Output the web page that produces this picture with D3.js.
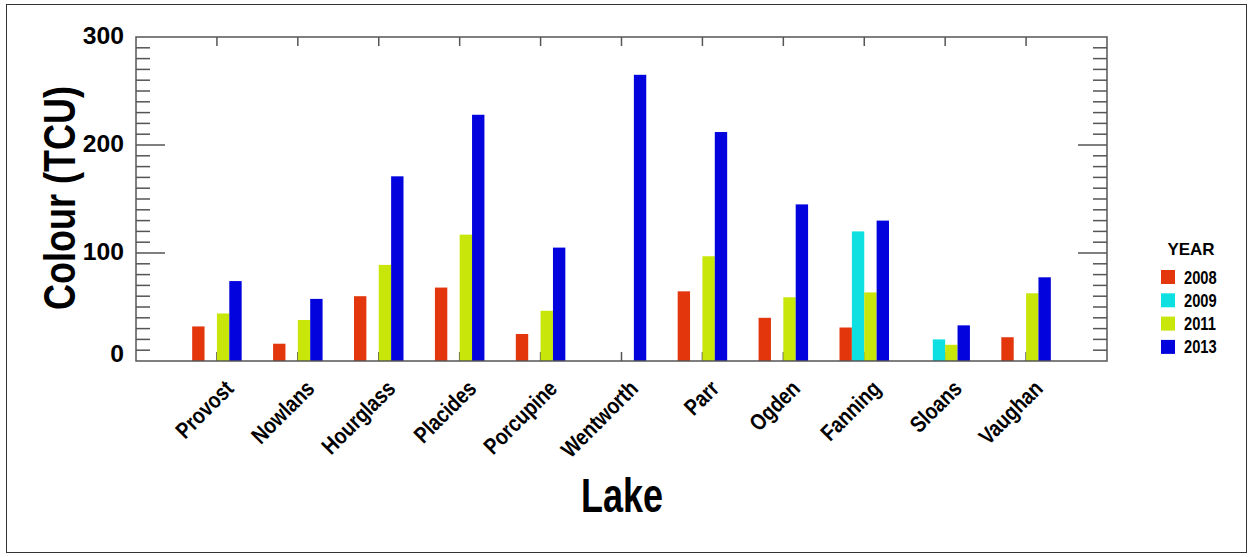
<!DOCTYPE html>
<html>
<head>
<meta charset="utf-8">
<script src="https://cdn.jsdelivr.net/npm/d3@7"></script>
<style>
  body { margin: 0; background: #fff; }
  text { font-family: "Liberation Sans", Arial, sans-serif; font-weight: bold; fill: #000; }
</style>
</head>
<body>
<svg id="chart" width="1249" height="557"></svg>
<script>
const lakes = ["Provost","Nowlans","Hourglass","Placides","Porcupine","Wentworth","Parr","Ogden","Fanning","Sloans","Vaughan"];
const years = ["2008","2009","2011","2013"];
const colours = ["#e3360c","#0ee0e2","#c8e60a","#0303dd"];
const v2008 = [32, 16, 60, 68, 25, null, 64.5, 40, 31, null, 22];
const v2009 = [null, null, null, null, null, null, null, null, 120, 20, null];
const v2011 = [44, 38, 89, 117, 46.5, null, 97, 59, 63.5, 15, 62.7];
const v2013 = [74, 57.5, 171, 228, 105, 265, 212, 145, 130, 33, 77.5];
const series = [v2008, v2009, v2011, v2013];
const yTicks = [0, 100, 200, 300];

const svg = d3.select("#chart");
const L = 136, R = 1107, T = 37, B = 361;
const axisCol = "#555";

// outer frame
svg.append("rect").attr("x", 6.5).attr("y", 4.5).attr("width", 1240).attr("height", 548)
  .attr("fill", "none").attr("stroke", "#333").attr("stroke-width", 1);

const x = d3.scaleLinear().domain([-1, lakes.length]).range([L, R]);
const xi = d3.scaleBand().domain(years).range([-24.75, 24.75]).padding(0);
const y = d3.scaleLinear().domain([0, 300]).range([B, T]);

// category ticks (top and bottom), drawn before bars
lakes.forEach((l, i) => {
  svg.append("line").attr("x1", x(i)).attr("x2", x(i)).attr("y1", T).attr("y2", T + 9)
    .attr("stroke", axisCol).attr("stroke-width", 1.5);
  svg.append("line").attr("x1", x(i)).attr("x2", x(i)).attr("y1", B).attr("y2", B - 9)
    .attr("stroke", axisCol).attr("stroke-width", 1.5);
});

// y minor/major ticks on left and right
d3.range(10, 300, 10).forEach(v => {
  const major = v % 100 === 0;
  const len = major ? 29 : 14;
  svg.append("line").attr("x1", L).attr("x2", L + len).attr("y1", y(v)).attr("y2", y(v))
    .attr("stroke", axisCol).attr("stroke-width", 1.5);
  svg.append("line").attr("x1", R).attr("x2", R - len).attr("y1", y(v)).attr("y2", y(v))
    .attr("stroke", axisCol).attr("stroke-width", 1.5);
});

// bars
series.forEach((vals, s) => {
  svg.append("g").selectAll("rect")
    .data(vals.map((v, i) => ({v, i})).filter(d => d.v !== null))
    .join("rect")
    .attr("x", d => x(d.i) + xi(years[s]))
    .attr("width", xi.bandwidth())
    .attr("y", d => y(d.v))
    .attr("height", d => y(0) - y(d.v))
    .attr("fill", colours[s]);
});

// plot frame
svg.append("rect").attr("x", L).attr("y", T).attr("width", R - L).attr("height", B - T)
  .attr("fill", "none").attr("stroke", axisCol).attr("stroke-width", 1.5);

// y tick labels
yTicks.forEach(v => {
  const by = Math.min(y(v) + 7, 362);
  svg.append("text")
    .attr("transform", `translate(124,${by}) scale(0.95,0.92)`)
    .attr("text-anchor", "end").attr("font-size", 26).text(v);
});

// x tick labels
lakes.forEach((l, i) => {
  svg.append("text")
    .attr("transform", `translate(${x(i) + 18},${390}) rotate(-45) scale(1,1.2)`)
    .attr("text-anchor", "end").attr("font-size", 19).text(l);
});

// axis titles
svg.append("text")
  .attr("transform", `translate(75,198) rotate(-90) scale(1,1.25)`)
  .attr("text-anchor", "middle").attr("font-size", 36).text("Colour (TCU)");
svg.append("text")
  .attr("transform", `translate(622,512) scale(1,1.32)`)
  .attr("text-anchor", "middle").attr("font-size", 36).text("Lake");

// legend
svg.append("text").attr("x", 1191).attr("y", 255).attr("text-anchor", "middle")
  .attr("font-size", 17).text("YEAR");
years.forEach((yr, k) => {
  const ty = 270 + k * 23.3;
  svg.append("rect").attr("x", 1161).attr("y", ty).attr("width", 14).attr("height", 14)
    .attr("fill", colours[k]);
  svg.append("text")
    .attr("transform", `translate(1184,${ty + 13.5}) scale(0.92,1.1)`)
    .attr("font-size", 16).text(yr);
});
</script>
</body>
</html>
